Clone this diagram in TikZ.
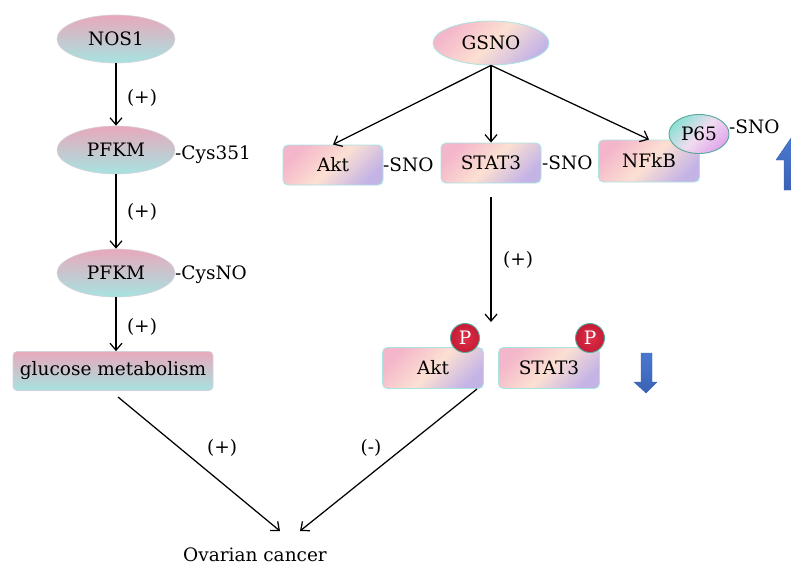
\documentclass[tikz,border=0pt]{standalone}
\usepackage{fontspec}
\setmainfont{DejaVu Serif}
\usetikzlibrary{shapes.geometric,arrows.meta}
\definecolor{lpink}{HTML}{E8A8BC}
\definecolor{lcyan}{HTML}{A6E3E0}
\definecolor{lborder}{HTML}{D6D0DA}
\definecolor{rpink}{HTML}{F4B6CA}
\definecolor{rpeach}{HTML}{FCE0D2}
\definecolor{rlav}{HTML}{C4B4E6}
\definecolor{rborder}{HTML}{A8E4E4}
\definecolor{pcyan}{HTML}{8EE0D6}
\definecolor{pmid}{HTML}{F0DCF0}
\definecolor{ppurp}{HTML}{E0A6EC}
\definecolor{pborder}{HTML}{56A898}
\definecolor{pred}{HTML}{E02E48}
\definecolor{pdark}{HTML}{C41C36}
\definecolor{blueA}{HTML}{4A78D0}
\definecolor{blueB}{HTML}{3A62B4}
\newcommand{\mylbl}{\fontsize{18.5}{22}\selectfont}
\begin{document}
\begin{tikzpicture}[x=1pt,y=-1pt,
  ellL/.style={ellipse, draw=lborder, line width=0.6pt, top color=lpink, bottom color=lcyan,
    minimum width=118pt, minimum height=48pt, inner sep=0pt, font=\mylbl},
  boxR/.style={rectangle, rounded corners=5pt, draw=rborder, line width=0.9pt,
    top color=rpink, bottom color=rlav, middle color=rpeach, shading angle=45,
    minimum width=100pt, minimum height=40pt, inner sep=0pt, font=\mylbl},
  boxL/.style={rectangle, rounded corners=4pt, draw=lborder, line width=0.6pt,
    top color=lpink, bottom color=lcyan, minimum width=200pt, minimum height=39pt,
    inner sep=0pt, font=\mylbl},
  ellR/.style={ellipse, draw=rborder, line width=0.8pt, top color=rpink, bottom color=rlav,
    middle color=rpeach, shading angle=45, minimum width=116pt, minimum height=44pt,
    inner sep=0pt, font=\mylbl},
  p65/.style={ellipse, draw=pborder, line width=0.9pt, top color=pcyan, bottom color=ppurp,
    middle color=pmid, shading angle=45, minimum width=60pt, minimum height=39pt,
    inner sep=0pt, font=\mylbl},
  pcirc/.style={circle, draw=pborder, line width=0.9pt, inner color=pred, outer color=pdark,
    minimum size=29pt, inner sep=0pt, text=white, font=\mylbl},
  lab/.style={font=\mylbl, inner sep=0pt},
  side/.style={font=\mylbl, inner sep=0pt, anchor=west},
  arr/.style={-{Straight Barb[length=7pt,width=12pt]}, line width=1.25pt},
  bigarrow/.style={top color=blueA, bottom color=blueB, draw=blueB, line width=0.4pt}
]
\useasboundingbox (0,0) rectangle (791,567);

% left column
\node[ellL] (nos1) at (116,39) {NOS1};
\node[ellL] (pfkm1) at (116,150) {PFKM};
\node[side] (cys351) at (175,155) {-Cys351};
\node[ellL] (pfkm2) at (116,273) {PFKM};
\node[side] (cysno) at (175,275) {-CysNO};
\node[boxL] (gluc) at (113,371) {glucose metabolism};

\draw[arr] (nos1) -- (pfkm1);
\draw[arr] (pfkm1) -- (pfkm2);
\draw[arr] (pfkm2) -- (pfkm2 |- gluc.north);
\node[lab] (l1) at (142,98) {(+)};
\node[lab] (l2) at (142,212) {(+)};
\node[lab] (l3) at (142,327) {(+)};

% right part
\node[ellR] (gsno) at (491,43) {GSNO};
\node[boxR] (akt) at (333,165) {Akt};
\node[side] (sno1) at (383,165) {-SNO};
\node[boxR] (stat3) at (491,163) {STAT3};
\node[side] (sno2) at (542,163) {-SNO};
\node[boxR, minimum height=42pt, minimum width=101pt] (nfkb) at (649,161) {NFkB};
\node[p65] (p65) at (699,134) {P65};
\node[side] (sno3) at (729,127) {-SNO};

\draw[arr] (gsno.south) -- (akt.north);
\draw[arr] (gsno.south) -- (stat3.north);
\draw[arr] (gsno.south) -- (nfkb.north);

% phosphorylated
\node[boxR, minimum height=41pt, minimum width=101pt] (aktp) at (433,368) {Akt};
\node[pcirc] (p1) at (465,338) {P};
\node[boxR, minimum height=41pt, minimum width=101pt] (stat3p) at (549,368) {STAT3};
\node[pcirc] (p2) at (590,338) {P};

\coordinate (s3start) at (491,197);
\coordinate (s3end) at (491,322);
\draw[arr] (s3start) -- (s3end);
\node[lab] (l4) at (518,260) {(+)};

% outcome
\node[lab] (ovc) at (255,555) {Ovarian cancer};
\coordinate (gstart) at (118,397);
\coordinate (gend) at (280,531);
\coordinate (astart) at (477,389);
\coordinate (aend) at (300,531);
\draw[arr] (gstart) -- (gend);
\draw[arr] (astart) -- (aend);
\node[lab] (l5) at (222,448) {(+)};
\node[lab] (l6) at (371,448) {(-)};

% big blue arrows
\path[bigarrow] (641,353) -- (652,353) -- (652,382) -- (657,382) -- (646,393) -- (634,382) -- (641,382) -- cycle;
\path[bigarrow] (784,190) -- (798,190) -- (798,160) -- (806,160) -- (791,138) -- (776,160) -- (784,160) -- cycle;
\end{tikzpicture}
\end{document}
